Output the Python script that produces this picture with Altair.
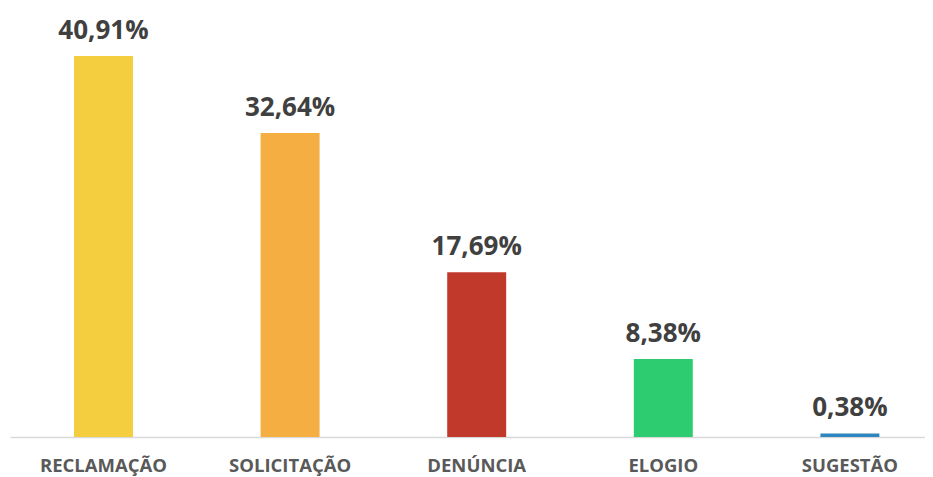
import altair as alt
import pandas as pd

categories = ["RECLAMAÇÃO", "SOLICITAÇÃO", "DENÚNCIA", "ELOGIO", "SUGESTÃO"]
values = [40.91, 32.64, 17.69, 8.38, 0.38]
colors = ["#F4CE3F", "#F5AE42", "#C0392B", "#2ECC71", "#2E86C1"]

labels = [f"{v:.2f}".replace(".", ",") + "%" for v in values]
df = pd.DataFrame({"cat": categories, "val": values, "label": labels, "color": colors})

x = alt.X(
    "cat:N",
    sort=categories,
    scale=alt.Scale(range=[2.2, 935.2], paddingInner=0.684, paddingOuter=0.342),
    axis=alt.Axis(
        title=None,
        labelAngle=0,
        ticks=False,
        tickSize=0,
        domainColor="#D9D9D9",
        domainWidth=1.5,
        labelFont="Open Sans",
        labelFontSize=18.5,
        labelFontWeight="bold",
        labelColor="#595959",
        labelBaseline="alphabetic",
        labelPadding=34,
    ),
)
y = alt.Y("val:Q", scale=alt.Scale(domain=[0, 46.07], nice=False), axis=None)

bars = alt.Chart(df).mark_bar().encode(
    x=x, y=y, color=alt.Color("color:N", scale=None)
)
text = alt.Chart(df).mark_text(
    font="Open Sans", fontSize=26, fontWeight="bold", color="#404040",
    baseline="alphabetic", dy=-17
).encode(x=x, y=y, text="label:N")

chart = (bars + text).properties(
    width=917, height=429,
    padding={"left": 0, "right": 0, "top": 0, "bottom": 40},
    autosize=alt.AutoSizeParams(type="none"),
).configure_view(stroke=None).configure_axis(grid=False)

chart.save("out.html", embed_options={"renderer": "svg", "actions": False})
